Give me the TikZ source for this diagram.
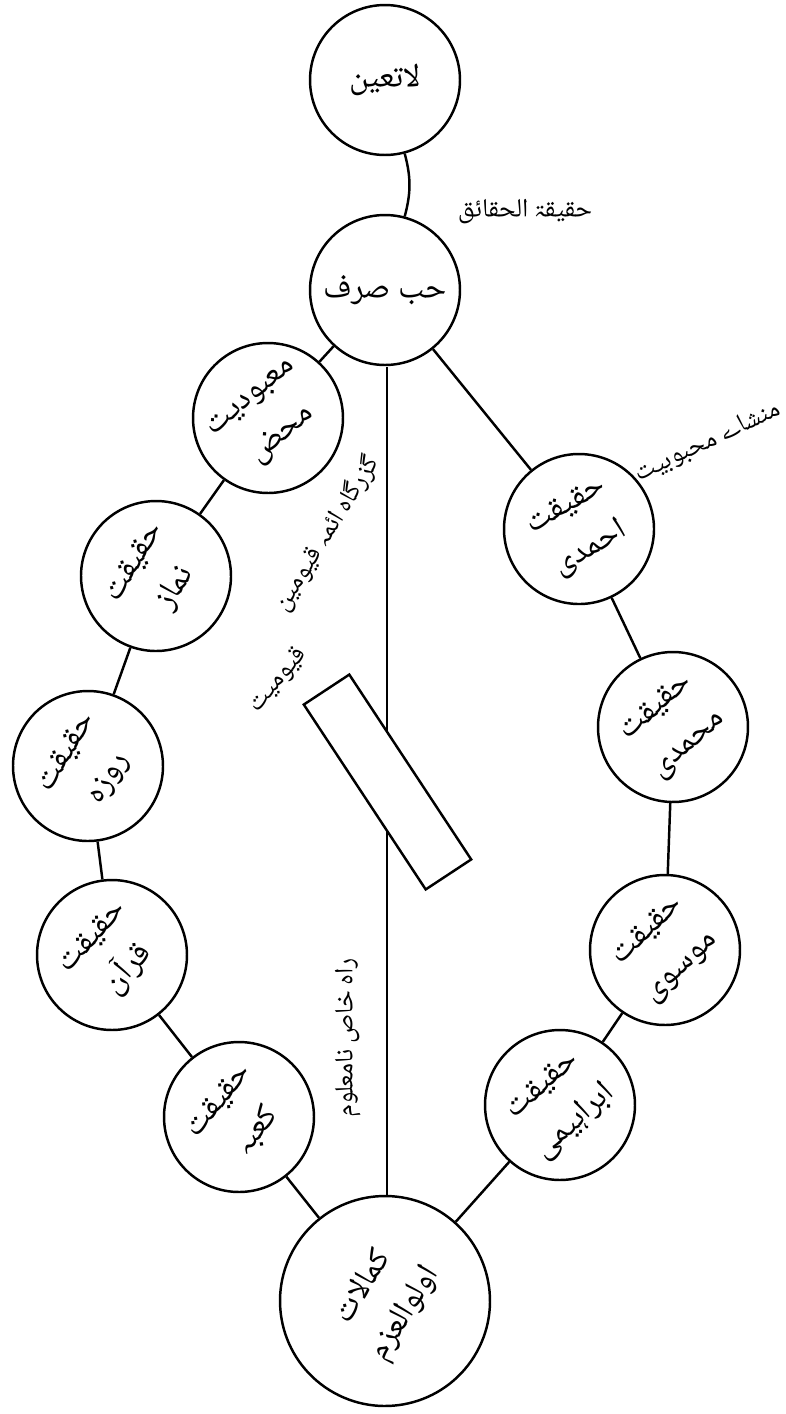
\documentclass[tikz,border=0pt]{standalone}
\usepackage{fontspec}
\IfFontExistsTF{Noto Naskh Arabic UI}{\newfontfamily\arabicfont[Script=Arabic]{Noto Naskh Arabic UI}}{%
\IfFontExistsTF{Noto Naskh Arabic}{\newfontfamily\arabicfont[Script=Arabic]{Noto Naskh Arabic}}{%
\IfFontExistsTF{Noto Sans Arabic UI}{\newfontfamily\arabicfont[Script=Arabic]{Noto Sans Arabic UI}}{%
\newfontfamily\arabicfont[Script=Arabic]{DejaVu Sans}}}}
\TeXXeTstate=1
\newcommand{\rtl}[1]{\beginR #1\endR}
\begin{document}
\begin{tikzpicture}[
  x=0.02cm, y=-0.02cm,
  stage/.style={circle, draw, line width=1.4pt, fill=white, minimum size=3cm, inner sep=0pt, align=center, font=\arabicfont\fontsize{19}{28}\selectfont},
  bigstage/.style={stage, minimum size=4.2cm},
  remark/.style={font=\arabicfont\fontsize{15}{18}\selectfont},
  link/.style={line width=1.4pt}
]
\useasboundingbox (0,0) rectangle (786,1414);
\draw[link] (387,367) -- (387,1196);
\node[draw, line width=1.4pt, fill=white, rotate=-56.6, minimum width=4.43cm, minimum height=1.09cm, inner sep=0pt] (qbar) at (387.5,782) {};

\node[stage] (latayun) at (385,80) {\rtl{لاتعین}};
\node[stage] (hubb) at (385,290) {\rtl{حب صرف}};
\node[stage, rotate=40] (mabud) at (268,418) {\rtl{معبودیت}\\\rtl{محض}};
\node[stage, rotate=58] (namaz) at (156,576) {\rtl{حقیقت}\\\rtl{نماز}};
\node[stage, rotate=58] (roza) at (88,766) {\rtl{حقیقت}\\\rtl{روزہ}};
\node[stage, rotate=48] (quran) at (112,955) {\rtl{حقیقت}\\\rtl{قرآن}};
\node[stage, rotate=51] (kaba) at (239,1117) {\rtl{حقیقت}\\\rtl{کعبہ}};
\node[bigstage, rotate=58] (ulul) at (385,1301) {\rtl{کمالات}\\\rtl{اولوالعزم}};
\node[stage, rotate=42] (ibrahimi) at (560,1105) {\rtl{حقیقت}\\\rtl{ابراہیمی}};
\node[stage, rotate=43] (musawi) at (665,950) {\rtl{حقیقت}\\\rtl{موسوی}};
\node[stage, rotate=41] (muhammadi) at (673,727) {\rtl{حقیقت}\\\rtl{محمدی}};
\node[stage, rotate=30] (ahmadi) at (579,529) {\rtl{حقیقت}\\\rtl{احمدی}};

\node[remark] (haqaiq) at (525,212) {\rtl{حقیقۃ الحقائق}};
\node[remark, rotate=25] (mansha) at (708,442) {\rtl{منشاے محبوبیت}};
\node[remark, rotate=58] (guzargah) at (327,534) {\rtl{گزرگاہ ائمہ قیومین}};
\node[remark, rotate=50] (qayyumiyat) at (278,680) {\rtl{قیومیت}};
\node[remark, rotate=90] (rah) at (348,1038) {\rtl{راہ خاص نامعلوم}};

\draw[link] (latayun) to[bend left=15] (hubb);
\draw[link] (hubb) -- (mabud);
\draw[link] (mabud) -- (namaz);
\draw[link] (namaz) -- (roza);
\draw[link] (roza) -- (quran);
\draw[link] (quran) -- (kaba);
\draw[link] (kaba) -- (ulul);
\draw[link] (ulul) -- (ibrahimi);
\draw[link] (ibrahimi) -- (musawi);
\draw[link] (musawi) -- (muhammadi);
\draw[link] (muhammadi) -- (ahmadi);
\draw[link] (ahmadi) -- (hubb);
\end{tikzpicture}
\end{document}
